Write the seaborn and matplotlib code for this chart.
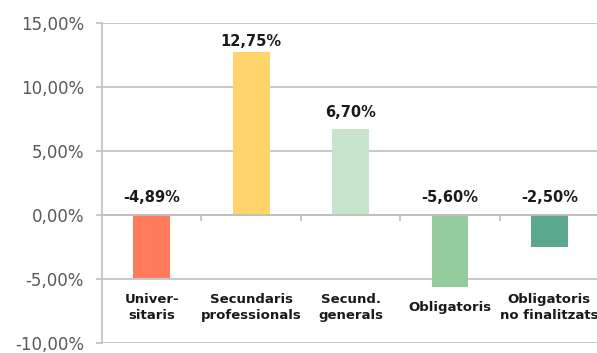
import matplotlib
matplotlib.use("Agg")
import matplotlib.pyplot as plt
import matplotlib.ticker as mticker
import seaborn as sns
import pandas as pd

categories = ["Univer-\nsitaris", "Secundaris\nprofessionals", "Secund.\ngenerals",
              "Obligatoris", "Obligatoris\nno finalitzats"]
values = [-4.89, 12.75, 6.70, -5.60, -2.50]
colors = ["#FF7B5C", "#FFD46B", "#C8E4CC", "#93CC9D", "#5BA88E"]
y_ticks = [-10, -5, 0, 5, 10, 15]

sns.set_style("white")
plt.rcParams["font.family"] = ["DejaVu Sans"]

df = pd.DataFrame({"cat": categories, "val": values})

fig = plt.figure(figsize=(5.97, 3.53), dpi=100)
ax = fig.add_axes([0.171, 0.028, 0.829, 0.907])

sns.barplot(data=df, x="cat", y="val", hue="cat", palette=colors,
            width=0.37, legend=False, ax=ax, saturation=1, linewidth=0)

ax.set_ylim(-10, 15)
ax.set_xlim(-0.5, 4.48)
ax.set_yticks(y_ticks)
ax.yaxis.set_major_formatter(mticker.FuncFormatter(lambda v, p: f"{v:.2f}%".replace(".", ",")))
ax.tick_params(axis="y", labelsize=12, labelcolor="#595959", color="#BFBFBF",
               length=4, width=1.2, pad=9, left=True)

# eix x a zero amb marques entre categories
ax.spines["bottom"].set_position(("data", 0))
ax.spines["bottom"].set_color("#BFBFBF")
ax.spines["bottom"].set_linewidth(1.2)
ax.spines["left"].set_color("#BFBFBF")
ax.spines["left"].set_linewidth(1.2)
ax.spines["top"].set_visible(False)
ax.spines["right"].set_visible(False)
ax.set_xticks([])
ax.set_xticks([0.5, 1.5, 2.5, 3.5], minor=True)
ax.tick_params(axis="x", which="minor", length=4, width=1.2, color="#BFBFBF", bottom=True)
ax.set_xlabel("")
ax.set_ylabel("")

ax.yaxis.grid(True, color="#BFBFBF", linewidth=1.2)
ax.set_axisbelow(True)

for i, v in enumerate(values):
    off = 2 if v > 10 else 7
    ax.annotate(f"{v:.2f}%".replace(".", ","), (i, max(v, 0)), xytext=(0, off),
                textcoords="offset points", ha="center", va="bottom",
                fontsize=10.5, fontweight="bold", color="#1a1a1a")
    ax.text(i, -7.2, categories[i], ha="center", va="center", fontsize=9.5,
            fontweight="bold", color="#1a1a1a", linespacing=1.3)

fig.savefig("out.png", dpi=100)
